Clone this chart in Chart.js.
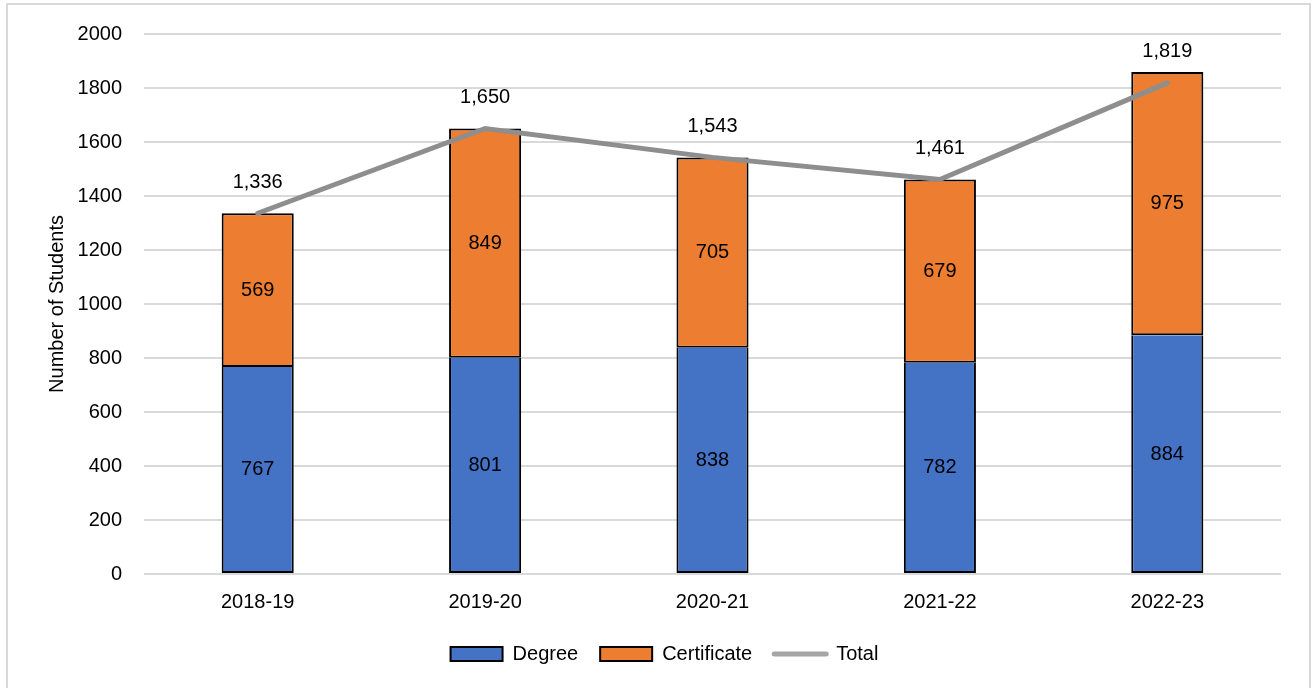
<!DOCTYPE html>
<html>
<head>
<meta charset="utf-8">
<script src="https://cdn.jsdelivr.net/npm/chart.js@4.4.1/dist/chart.umd.min.js"></script>
<style>
  html, body { margin: 0; padding: 0; background: #fff; overflow: hidden; }
  #frame { position: absolute; left: 6px; top: 3px; width: 1305px; height: 700px; border: 2px solid #d9d9d9; box-sizing: border-box; }
  #wrap { position: absolute; left: 0; top: 0; width: 1312px; height: 688px; }
</style>
</head>
<body>
<div id="frame"></div>
<div id="wrap"><canvas id="chart"></canvas></div>
<script>
const years = ['2018-19', '2019-20', '2020-21', '2021-22', '2022-23'];
const degree = [767, 801, 838, 782, 884];
const certificate = [569, 849, 705, 679, 975];
const totals = [1336, 1650, 1543, 1461, 1819];
const yMin = 0;
const yMax = 2000;
const yStep = 200;

const FONT = '"Liberation Sans", Arial, sans-serif';
const FS = 20;

// values inside the bars and above the total line
const valueLabels = {
  id: 'valueLabels',
  afterDatasetsDraw(chart) {
    const ctx = chart.ctx;
    ctx.save();
    ctx.font = FS + 'px ' + FONT;
    ctx.fillStyle = '#000';
    ctx.textAlign = 'center';
    ctx.textBaseline = 'middle';
    chart.data.datasets.forEach((ds, di) => {
      const meta = chart.getDatasetMeta(di);
      meta.data.forEach((el, i) => {
        const v = ds.data[i];
        if (ds.type === 'line') {
          ctx.fillText(v.toLocaleString('en-US'), el.x, el.y - 31);
        } else {
          ctx.fillText(String(v), el.x, (el.y + el.base) / 2);
        }
      });
    });
    ctx.restore();
  }
};

// legend in the original sits a little right of centre
const legendShift = {
  id: 'legendShift',
  afterLayout(chart) {
    if (chart.legend) {
      chart.legend.left += 24;
      chart.legend.right += 24;
    }
  }
};

new Chart(document.getElementById('chart'), {
  type: 'bar',
  data: {
    labels: years,
    datasets: [
      {
        label: 'Degree',
        data: degree,
        backgroundColor: '#4472c4',
        borderColor: '#000',
        borderWidth: 2,
        borderSkipped: 'end',
        categoryPercentage: 1,
        barPercentage: 0.317,
        order: 1
      },
      {
        label: 'Certificate',
        data: certificate,
        backgroundColor: '#ed7d31',
        borderColor: '#000',
        borderWidth: 2,
        borderSkipped: false,
        categoryPercentage: 1,
        barPercentage: 0.317,
        order: 1
      },
      {
        type: 'line',
        label: 'Total',
        data: totals,
        borderColor: '#8e8e8e',
        backgroundColor: '#8e8e8e',
        borderWidth: 5,
        borderCapStyle: 'round',
        pointRadius: 0,
        tension: 0,
        order: 0
      }
    ]
  },
  options: {
    responsive: true,
    maintainAspectRatio: false,
    animation: false,
    layout: { padding: { left: 0, right: 31, top: 32, bottom: 14 } },
    scales: {
      x: {
        stacked: true,
        grid: { display: false, drawTicks: false },
        border: { display: false },
        ticks: { color: '#000', font: { family: FONT, size: FS }, padding: 16, maxRotation: 0 },
        afterFit(scale) { scale.height = 48; }
      },
      y: {
        stacked: true,
        min: yMin,
        max: yMax,
        grid: { color: '#d9d9d9', lineWidth: 2, drawTicks: false },
        border: { display: false },
        ticks: {
          stepSize: yStep,
          color: '#000',
          font: { family: FONT, size: FS },
          padding: 22,
          callback: v => String(v)
        },
        title: {
          display: true,
          text: 'Number of Students',
          color: '#000',
          font: { family: FONT, size: FS },
          padding: { top: 45, bottom: 0 }
        },
        afterFit(scale) { scale.width = 144; }
      }
    },
    plugins: {
      tooltip: { enabled: false },
      legend: {
        position: 'bottom',
        labels: {
          color: '#000',
          font: { family: FONT, size: FS },
          usePointStyle: true,
          pointStyleWidth: 52,
          boxHeight: 14,
          padding: 22,
          sort: (a, b) => a.datasetIndex - b.datasetIndex,
          generateLabels(chart) {
            const items = Chart.defaults.plugins.legend.labels.generateLabels(chart);
            items.forEach(it => {
              if (it.datasetIndex === 2) {
                it.pointStyle = 'line';
                it.strokeStyle = '#a6a6a6';
                it.lineWidth = 5;
                it.lineCap = 'round';
              } else {
                it.pointStyle = 'rect';
                it.strokeStyle = '#000';
                it.lineWidth = 2;
              }
            });
            return items;
          }
        }
      }
    }
  },
  plugins: [valueLabels, legendShift]
});
</script>
</body>
</html>
